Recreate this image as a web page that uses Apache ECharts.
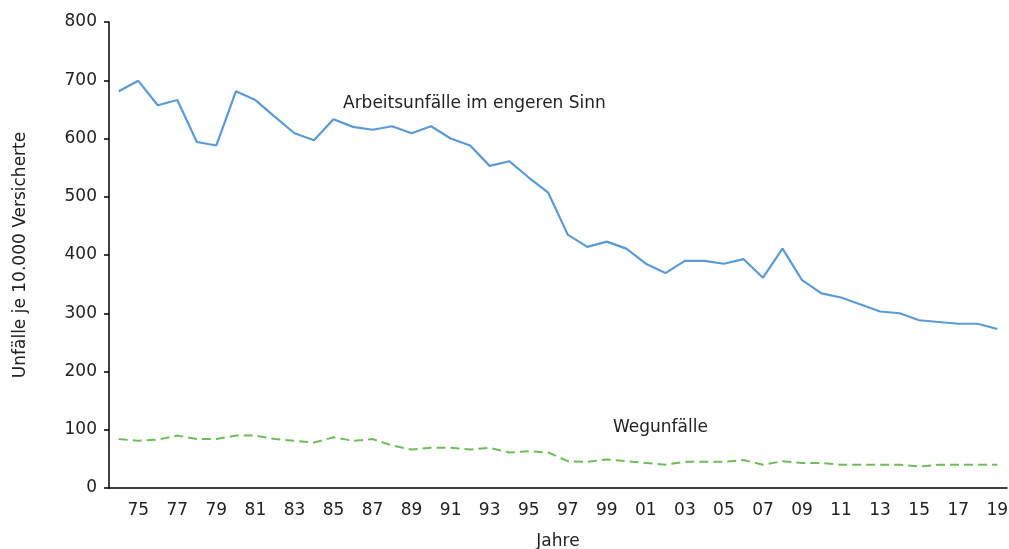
<!DOCTYPE html>
<html>
<head>
<meta charset="utf-8">
<script src="https://cdn.jsdelivr.net/npm/echarts@6/dist/echarts.min.js"></script>
<style>
  html, body { margin: 0; padding: 0; background: #fff; }
  #chart { width: 1009px; height: 549px; }
</style>
</head>
<body>
<div id="chart"></div>
<script>
// Jahre 1974 - 2019, Achsenbeschriftung zweistellig
var years = [];
for (var y = 1974; y <= 2019; y++) { years.push(String(y).slice(2)); }

// Arbeitsunfälle im engeren Sinn (je 10.000 Versicherte)
var arbeitsunfaelle = [
    681, 699, 657, 666, 594, 588, 681, 666, 637, 609,
    597, 633, 620, 615, 621, 609, 621, 600, 588, 553,
    561, 533, 507, 435, 414, 423, 411, 385, 369, 390,
    390, 385, 393, 361, 411, 357, 334, 327, 315, 303,
    300, 288, 285, 282, 282, 273
];

// Wegunfälle
var wegunfaelle = [
    84, 81, 83, 90, 84, 84, 90, 90, 84, 81,
    78, 87, 81, 84, 73, 66, 69, 69, 66, 69,
    61, 63, 61, 46, 45, 49, 46, 43, 40, 45,
    45, 45, 48, 40, 46, 43, 43, 40, 40, 40,
    40, 37, 40, 40, 40, 40
];

var fontName = 'DejaVu Sans';

var chart = echarts.init(document.getElementById('chart'));

var option = {
    animation: false,
    grid: { left: 109, top: 22, right: 2, bottom: 61, outerBoundsMode: 'none', containLabel: false },
    xAxis: {
        type: 'category',
        data: years,
        boundaryGap: true,
        name: 'Jahre',
        nameLocation: 'middle',
        nameGap: 45,
        nameTextStyle: { color: '#222', fontSize: 17, fontFamily: fontName },
        axisLine: { lineStyle: { color: '#000', width: 1.5 } },
        axisTick: { interval: 0, length: 5, lineStyle: { color: '#000', width: 1.5 } },
        axisLabel: {
            interval: function (index) { return index % 2 === 1; },
            color: '#222', fontSize: 17, fontFamily: fontName, margin: 14
        },
        splitLine: { show: false }
    },
    yAxis: {
        type: 'value',
        min: 0, max: 800, interval: 100,
        name: 'Unfälle je 10.000 Versicherte',
        nameLocation: 'middle',
        nameRotate: 90,
        nameGap: 80,
        nameTextStyle: { color: '#222', fontSize: 17, fontFamily: fontName },
        axisLine: { show: true, lineStyle: { color: '#000', width: 1.5 } },
        axisTick: { show: true, length: 5, lineStyle: { color: '#000', width: 1.5 } },
        axisLabel: { color: '#222', fontSize: 17, fontFamily: fontName, margin: 12 },
        splitLine: { show: false }
    },
    series: [
        {
            name: 'Arbeitsunfälle im engeren Sinn',
            type: 'line',
            data: arbeitsunfaelle,
            showSymbol: false,
            lineStyle: { color: '#5B9BD5', width: 2.2 },
            itemStyle: { color: '#5B9BD5' }
        },
        {
            name: 'Wegunfälle',
            type: 'line',
            data: wegunfaelle,
            showSymbol: false,
            lineStyle: { color: '#6DBE5A', width: 2, type: [9, 5] },
            itemStyle: { color: '#6DBE5A' }
        }
    ],
    graphic: [
        {
            type: 'text', left: 343, top: 95,
            style: { text: 'Arbeitsunfälle im engeren Sinn', fill: '#222', font: '17px "DejaVu Sans"' }
        },
        {
            type: 'text', left: 613, top: 419,
            style: { text: 'Wegunfälle', fill: '#222', font: '17px "DejaVu Sans"' }
        }
    ]
};

chart.setOption(option);
</script>
</body>
</html>
